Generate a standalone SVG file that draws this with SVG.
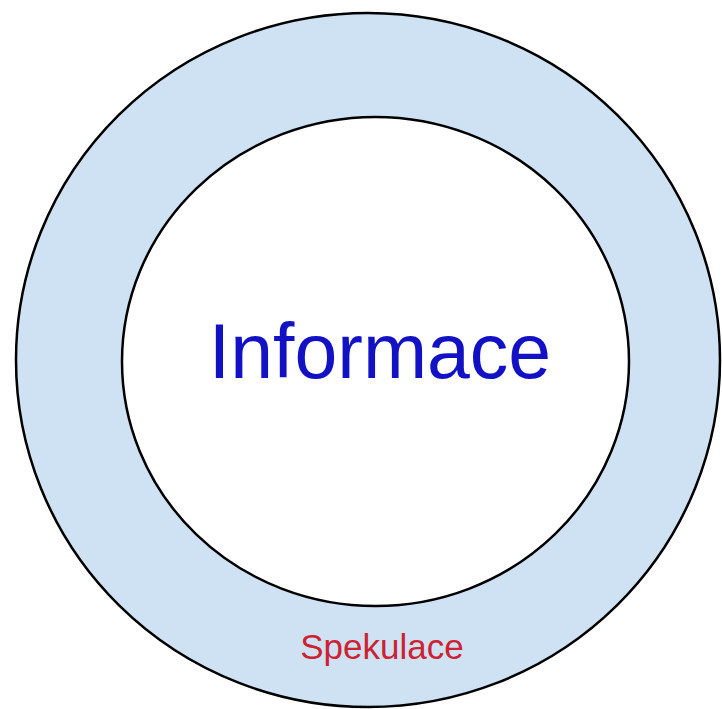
<svg xmlns="http://www.w3.org/2000/svg" width="722" height="709" viewBox="0 0 722 709">
<style>
.ring{stroke:#000;stroke-width:2.5}
.t{font-family:"Liberation Sans",Arial,sans-serif;text-anchor:middle}
</style>
<rect width="722" height="709" fill="#fff"/>
<g id="spekulace">
<ellipse class="ring" cx="368" cy="360" rx="352" ry="347" fill="#cfe2f3"/>
<text class="t" x="382" y="659" font-size="35" fill="#cc2233">Spekulace</text>
</g>
<g id="informace">
<ellipse class="ring" cx="375.5" cy="361.5" rx="253.5" ry="244.5" fill="#fff"/>
<text class="t" x="380" y="378" font-size="77" fill="#1212c4">Informace</text>
</g>
<g id="connectors"/>
</svg>
